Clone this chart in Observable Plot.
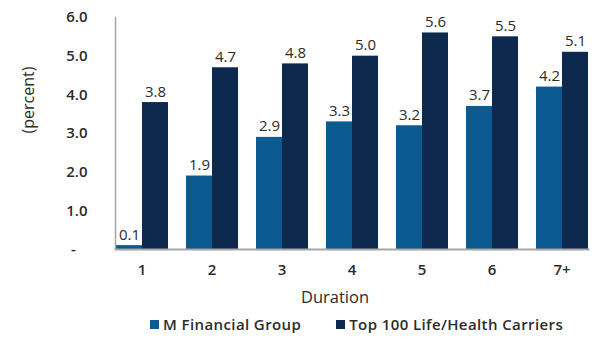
<!DOCTYPE html>
<html><head><meta charset="utf-8">
<script src="https://cdn.jsdelivr.net/npm/d3@7"></script>
<script src="https://cdn.jsdelivr.net/npm/@observablehq/plot@0.6"></script>
<style>
body{margin:0;background:#fff;font-family:"Open Sans",Lato,sans-serif;color:#2b2b2b;width:593px;overflow:hidden;}
#legend{display:flex;gap:0;padding-left:150px;height:28px;align-items:center;font-size:15px;font-weight:600;letter-spacing:0.4px;white-space:nowrap;}
.item{display:flex;align-items:center;margin-right:35px;flex-shrink:0;white-space:nowrap;}
.sw{width:9px;height:9px;margin-right:4px;display:inline-block;flex-shrink:0;}
</style></head>
<body><div id="chart"></div><div id="legend"></div>
<script>
const durations = ["1","2","3","4","5","6","7+"];
const seriesNames = ["M Financial Group","Top 100 Life/Health Carriers"];
const mFinancial = [0.1,1.9,2.9,3.3,3.2,3.7,4.2];
const top100 = [3.8,4.7,4.8,5.0,5.6,5.5,5.1];
const colors = ["#0b5b91","#0d2a4e"];
const yTicks = [0,1,2,3,4,5,6];

const data = durations.flatMap((d,i)=>[
  {duration:d, series:seriesNames[0], value:mFinancial[i]},
  {duration:d, series:seriesNames[1], value:top100[i]}
]);

const plot = Plot.plot({
  width:593, height:310, marginLeft:105, marginRight:-6, marginTop:17, marginBottom:61,
  style:{fontFamily:"'Open Sans', Lato, sans-serif", fontSize:"14px", color:"#2b2b2b", background:"#fff"},
  fx:{domain:durations, paddingInner:0.24, paddingOuter:0.12, label:null},
  x:{domain:seriesNames, padding:0, axis:null},
  y:{domain:[0,6]},
  color:{domain:seriesNames, range:colors},
  marks:[
    Plot.barY(data,{fx:"duration", x:"series", y:"value", fill:"series"}),
    Plot.text(data,{fx:"duration", x:"series", y:"value", text:d=>d.value.toFixed(1), dy:-6, lineAnchor:"bottom", fontSize:15, fontWeight:500, fill:"#2b2b2b"}),
    Plot.frame({anchor:"left", facet:"super", stroke:"#a6a6a6", strokeWidth:1.5}),
    Plot.frame({anchor:"bottom", facet:"super", stroke:"#a6a6a6", strokeWidth:2}),
    Plot.axisY({ticks:yTicks, tickSize:0, tickPadding:28, tickFormat:d=>d===0?"-\u00a0\u00a0\u00a0":d.toFixed(1), fontWeight:600, fontSize:15, label:null}),
    Plot.axisFx({anchor:"bottom", tickSize:0, tickPadding:15, fontWeight:600, fontSize:15, label:null}),
    Plot.text(["(percent)"],{facet:"super", frameAnchor:"left", rotate:-90, dx:-87, fontSize:16, fontWeight:500, fill:"#2b2b2b"}),
    Plot.text(["Duration"],{facet:"super", frameAnchor:"bottom", dx:-17, dy:48, lineAnchor:"middle", fontSize:16.5, fontWeight:500, fill:"#2b2b2b"})
  ]
});
document.getElementById("chart").appendChild(plot);

const lg = document.getElementById("legend");
seriesNames.forEach((s,i)=>{
  const it=document.createElement("span"); it.className="item";
  const sw=document.createElement("span"); sw.className="sw"; sw.style.background=colors[i];
  it.appendChild(sw); it.appendChild(document.createTextNode(s)); lg.appendChild(it);
});
</script></body></html>
